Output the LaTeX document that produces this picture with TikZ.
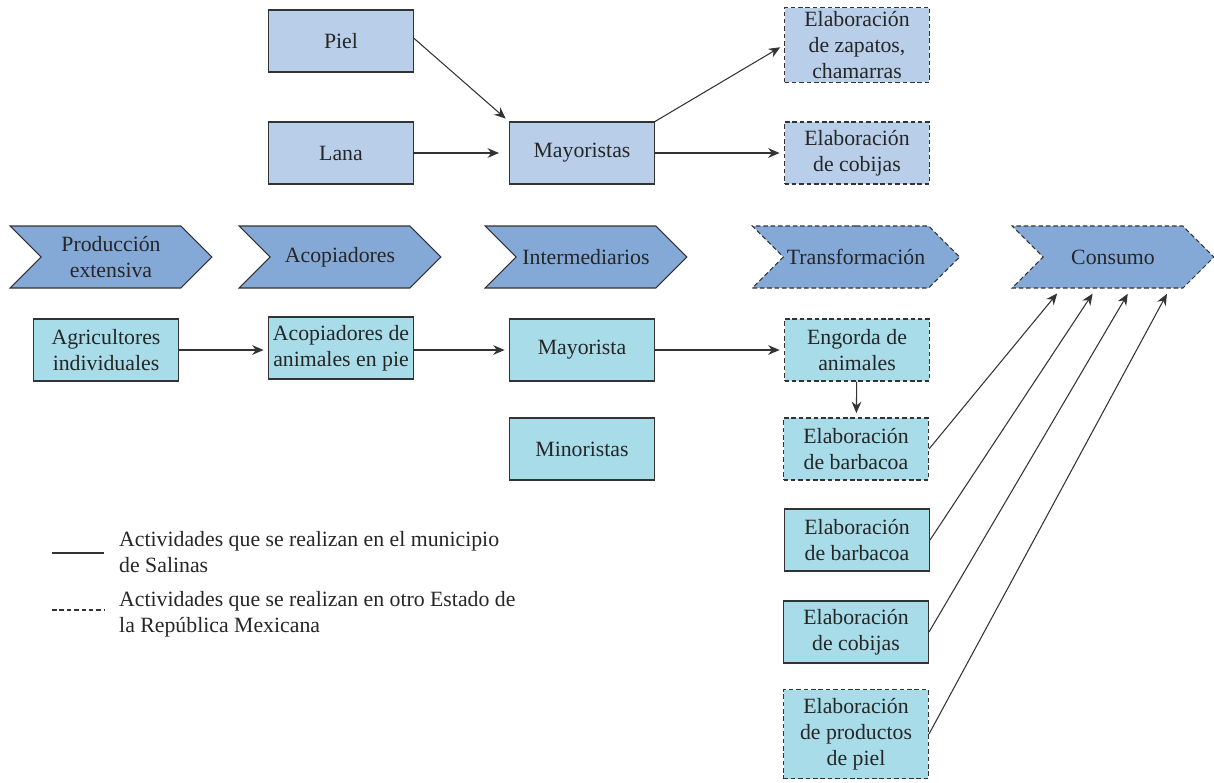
\documentclass[tikz,border=0pt]{standalone}
\usepackage{fontspec}
\setmainfont{Liberation Serif}
\usetikzlibrary{shapes,arrows.meta,positioning,calc,shapes.symbols}
\usepackage{xcolor}

\definecolor{woolfill}{HTML}{B9CFE9}
\definecolor{stagefill}{HTML}{85A9D6}
\definecolor{cattlefill}{HTML}{A8DCE9}
\definecolor{edgegray}{HTML}{333333}

\begin{document}
\begin{tikzpicture}[x=0.02cm, y=-0.02cm,
    every node/.style={font=\rmfamily\fontsize{12.4}{14.8}\selectfont, text=black!85},
    dashpat/.style={dash pattern=on 2.6pt off 1.6pt},
    woolbox/.style={draw=edgegray, fill=woolfill, minimum width=2.9cm, minimum height=1.24cm, inner sep=2pt, align=center, line width=0.6pt},
    wooldash/.style={woolbox, dashpat},
    stage/.style={signal, signal from=west, signal to=east, draw=edgegray, fill=stagefill, minimum width=4.04cm, minimum height=1.24cm, inner sep=2pt, align=center, line width=0.6pt},
    stagedash/.style={stage, dashpat},
    cattlebox/.style={draw=edgegray, fill=cattlefill, minimum width=2.9cm, minimum height=1.24cm, inner sep=2pt, align=center, line width=0.6pt},
    cattledash/.style={cattlebox, dashpat},
    myarrow/.style={-{Stealth[length=6.5pt, width=5.5pt]}, line width=0.6pt, edgegray, shorten >=2.5pt}
]
    \useasboundingbox (0,0) rectangle (1214,782);

    % Wool and leather chain (top)
    \node[woolbox] (piel) at (341,41) {Piel};
    \node[woolbox] (lana) at (341,153) {Lana};
    \node[woolbox] (mayor1) at (582,153) {Mayoristas};
    \node[wooldash, minimum height=1.5cm] (zapatos) at (857,45) {Elaboración\\de zapatos,\\chamarras};
    \node[wooldash] (cobijas1) at (857,153) {Elaboración\\de cobijas};

    % Stages of the chain
    \node[stage] (prod) at (111,257) {Producción\\extensiva};
    \node[stage] (acop) at (340,257) {Acopiadores};
    \node[stage] (inter) at (586,257) {Intermediarios};
    \node[stagedash] (transf) at (856,257) {Transformación};
    \node[stagedash] (consumo) at (1113,257) {Consumo};

    % Live animals chain (bottom)
    \node[cattlebox] (agric) at (106,350) {Agricultores\\individuales};
    \node[cattlebox] (acopan) at (341,348) {Acopiadores de\\animales en pie};
    \node[cattlebox] (mayor2) at (582,350) {Mayorista};
    \node[cattlebox] (minor) at (582,449) {Minoristas};
    \node[cattledash] (engorda) at (857,350) {Engorda de\\animales};
    \node[cattledash] (barb1) at (856,449) {Elaboración\\de barbacoa};
    \node[cattlebox] (barb2) at (857,540) {Elaboración\\de barbacoa};
    \node[cattlebox] (cobijas2) at (856,632) {Elaboración\\de cobijas};
    \node[cattledash, minimum height=1.78cm] (prodpiel) at (856,734) {Elaboración\\de productos\\de piel};

    % Entry points under Consumo
    \coordinate (in1) at (1060,290);
    \coordinate (in2) at (1095,290);
    \coordinate (in3) at (1130,290);
    \coordinate (in4) at (1169,290);

    % Arrows
    \draw[myarrow] ([yshift=1.5pt]piel.east) -- (mayor1.north west);
    \draw[myarrow, shorten >=5.7pt] (lana) -- (mayor1);
    \draw[myarrow] (mayor1.north east) -- (zapatos.west);
    \draw[myarrow] (mayor1) -- (cobijas1);
    \draw[myarrow] (agric) -- (acopan.west |- agric);
    \draw[myarrow] (acopan.east |- mayor2) -- (mayor2);
    \draw[myarrow] (mayor2) -- (engorda);
    \draw[myarrow] (engorda) -- (barb1);
    \draw[myarrow] (barb1.east) -- (in1);
    \draw[myarrow] (barb2.east) -- (in2);
    \draw[myarrow] (cobijas2.east) -- (in3);
    \draw[myarrow] (prodpiel.east) -- (in4);

    % Legend
    \coordinate (solidA) at (52,553);
    \coordinate (solidB) at (104,553);
    \draw[line width=0.6pt, edgegray] (solidA) -- (solidB);
    \node[anchor=west, align=left] (legsolid) at (113,552) {Actividades que se realizan en el municipio\\de Salinas};
    \coordinate (dashA) at (52,610);
    \coordinate (dashB) at (104,610);
    \draw[line width=0.6pt, edgegray, dashpat] (dashA) -- (dashB);
    \node[anchor=west, align=left] (legdash) at (113,614) {Actividades que se realizan en otro Estado de\\la República Mexicana};
\end{tikzpicture}
\end{document}
